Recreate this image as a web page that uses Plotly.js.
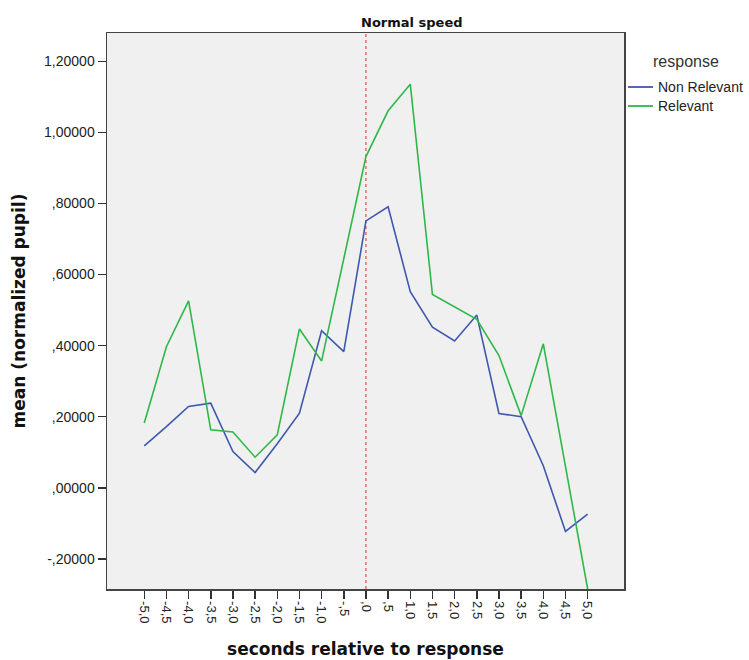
<!DOCTYPE html>
<html>
<head>
<meta charset="utf-8">
<script src="https://cdn.plot.ly/plotly-3.0.1.min.js"></script>
<style>
  html, body { margin: 0; padding: 0; background: #ffffff; }
  #chart { width: 749px; height: 660px; }
</style>
</head>
<body>
<div id="chart"></div>
<script>
// x categories (seconds relative to response)
var seconds = [-5.0, -4.5, -4.0, -3.5, -3.0, -2.5, -2.0, -1.5, -1.0, -0.5, 0.0,
               0.5, 1.0, 1.5, 2.0, 2.5, 3.0, 3.5, 4.0, 4.5, 5.0];
var xTickLabels = ["-5,0", "-4,5", "-4,0", "-3,5", "-3,0", "-2,5", "-2,0", "-1,5", "-1,0", "-,5", ",0",
                   ",5", "1,0", "1,5", "2,0", "2,5", "3,0", "3,5", "4,0", "4,5", "5,0"];

// series values: mean (normalized pupil)
var nonRelevant = [0.118, 0.172, 0.229, 0.238, 0.102, 0.043, 0.124, 0.210, 0.442, 0.383, 0.751,
                   0.791, 0.552, 0.452, 0.413, 0.486, 0.209, 0.200, 0.062, -0.123, -0.074];
var relevant = [0.182, 0.397, 0.526, 0.163, 0.157, 0.086, 0.149, 0.447, 0.357, 0.644, 0.932,
                1.061, 1.136, 0.544, 0.510, 0.474, 0.372, 0.203, 0.405, 0.060, -0.285];

// y tick labels
var yTickVals = [-0.2, 0.0, 0.2, 0.4, 0.6, 0.8, 1.0, 1.2];
var yTickLabels = ["-,20000", ",00000", ",20000", ",40000", ",60000", ",80000", "1,00000", "1,20000"];

var seriesNames = ["Non Relevant", "Relevant"];
var seriesColors = ["#3e58ac", "#2eb848"];
var chartTitle = "Normal speed";
var xTitle = "seconds relative to response";
var yTitle = "mean (normalized pupil)";
var legendTitle = "response";

var FONT = "Liberation Sans, Arial, sans-serif";
var BOLDFONT = "DejaVu Sans, Liberation Sans, sans-serif";
var W = 749, H = 660;
var M = { l: 107, r: 125, t: 33, b: 71 };
var plotW = W - M.l - M.r, plotH = H - M.t - M.b;
function px2x(px) { return (px - M.l) / plotW; }
function px2y(py) { return (H - M.b - py) / plotH; }

var traces = [
  {
    x: seconds, y: nonRelevant, name: seriesNames[0], type: "scatter", mode: "lines",
    line: { color: seriesColors[0], width: 1.6 }, showlegend: false
  },
  {
    x: seconds, y: relevant, name: seriesNames[1], type: "scatter", mode: "lines",
    line: { color: seriesColors[1], width: 1.6 }, showlegend: false
  }
];

// legend drawn as shapes + text
var shapes = [
  {
    type: "line", xref: "x", yref: "paper", x0: 0, x1: 0, y0: 0, y1: 1,
    line: { color: "#f04848", width: 1.2, dash: "dot" }, layer: "below"
  }
];
var annotations = [
  {
    text: chartTitle, xref: "paper", yref: "paper", x: px2x(412), y: 1, yanchor: "bottom", xanchor: "center",
    yshift: 1, showarrow: false,
    font: { family: BOLDFONT, size: 13, color: "#111111", weight: "bold" }
  },
  {
    text: legendTitle, xref: "paper", yref: "paper", x: px2x(686), y: px2y(61), xanchor: "center", yanchor: "middle",
    showarrow: false, font: { family: FONT, size: 16, color: "#333333" }
  }
];
var legendRowY = [87, 106];
for (var i = 0; i < seriesNames.length; i++) {
  shapes.push({
    type: "line", xref: "paper", yref: "paper",
    x0: px2x(628), x1: px2x(653), y0: px2y(legendRowY[i]), y1: px2y(legendRowY[i]),
    line: { color: seriesColors[i], width: 1.8 }
  });
  annotations.push({
    text: seriesNames[i], xref: "paper", yref: "paper", x: px2x(656), y: px2y(legendRowY[i]),
    xanchor: "left", yanchor: "middle", showarrow: false,
    font: { family: FONT, size: 14, color: "#222222" }
  });
}

var layout = {
  width: W, height: H,
  margin: { l: M.l, r: M.r, t: M.t, b: M.b, pad: 0 },
  paper_bgcolor: "#ffffff",
  plot_bgcolor: "#f0f0f0",
  font: { family: FONT, color: "#222222" },
  showlegend: false,
  xaxis: {
    range: [-5.84, 5.82],
    tickmode: "array", tickvals: seconds, ticktext: xTickLabels,
    tickangle: 90,
    ticks: "outside", ticklen: 8, tickwidth: 1.5, tickcolor: "#333333",
    tickfont: { family: FONT, size: 13, color: "#222222" },
    showgrid: false, zeroline: false,
    showline: true, mirror: true, linecolor: "#444444", linewidth: 1.5,
    title: { text: xTitle, font: { family: BOLDFONT, size: 17, color: "#111111", weight: "bold" }, standoff: 20 }
  },
  yaxis: {
    range: [-0.285, 1.28],
    tickmode: "array", tickvals: yTickVals, ticktext: yTickLabels,
    ticks: "outside", ticklen: 8, tickwidth: 1.5, tickcolor: "#333333",
    tickfont: { family: FONT, size: 14, color: "#222222" },
    showgrid: false, zeroline: false,
    showline: true, mirror: true, linecolor: "#444444", linewidth: 1.5,
    title: { text: yTitle, font: { family: BOLDFONT, size: 17, color: "#111111", weight: "bold" }, standoff: 14 }
  },
  shapes: shapes,
  annotations: annotations
};

Plotly.newPlot("chart", traces, layout, { displayModeBar: false, staticPlot: true });
</script>
</body>
</html>
